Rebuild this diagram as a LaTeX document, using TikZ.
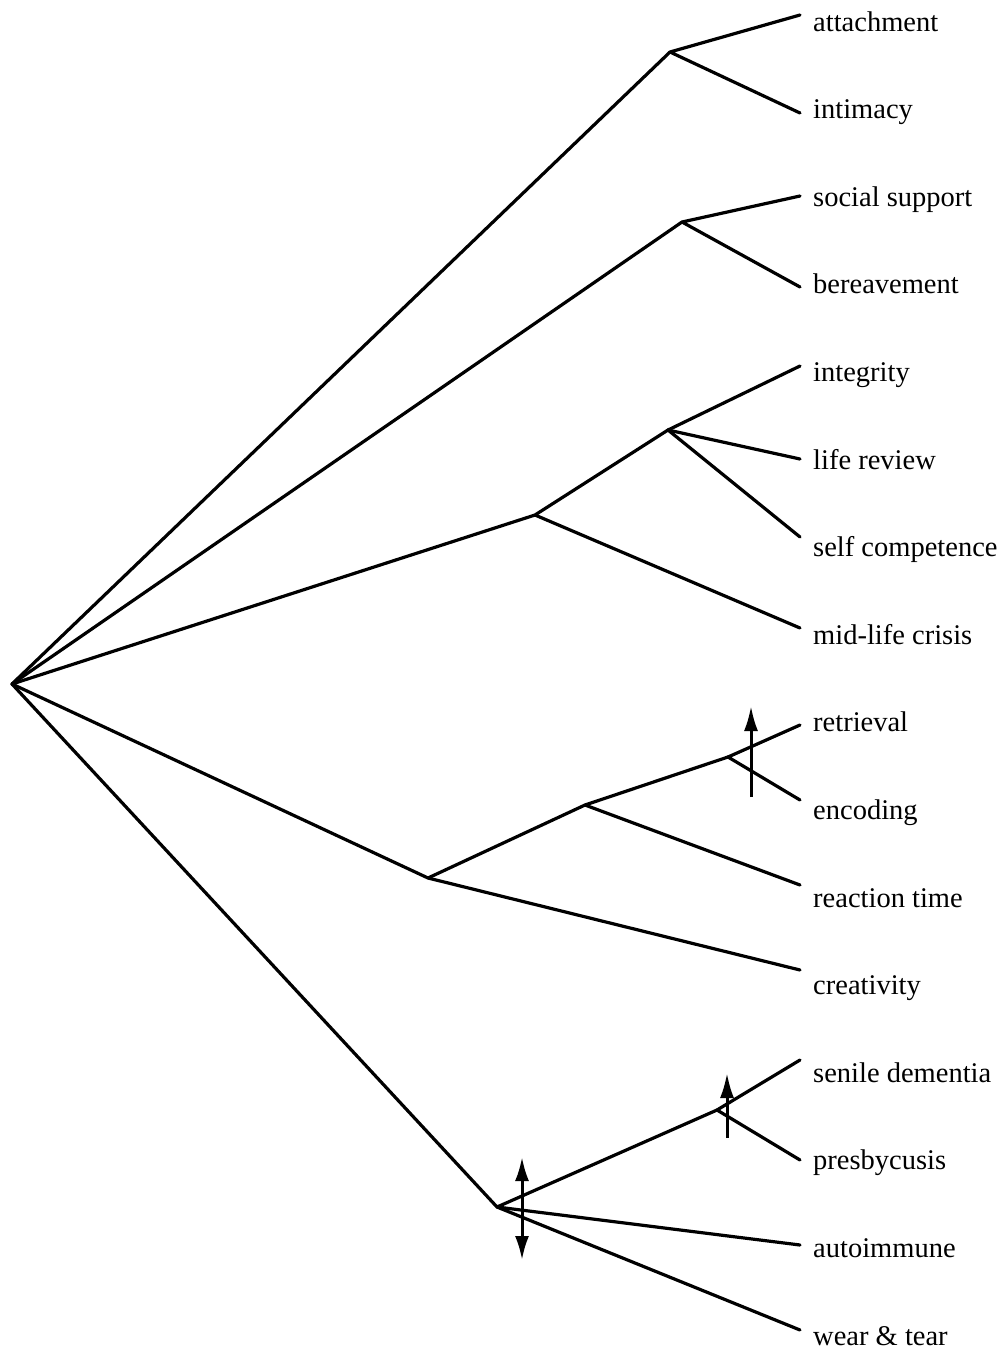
\documentclass[tikz,border=0pt]{standalone}
\usepackage{fontspec}
\setmainfont{Liberation Serif}
\usetikzlibrary{arrows.meta}
\begin{document}
\begin{tikzpicture}[x=1pt,y=-1pt,
  branch/.style={line width=3.2pt,line join=round,line cap=round},
  leaf/.style={anchor=base west,inner sep=0pt,font=\fontsize{28.5}{30}\selectfont},
  marker/.style={line width=3pt,-{Latex[length=25pt,width=14pt]}},
  bimarker/.style={line width=3pt,{Latex[length=24pt,width=14pt]}-{Latex[length=24pt,width=14pt]}}]
\useasboundingbox (0,0) rectangle (1003,1349);

% root and branching points
\coordinate (root) at (12,684);
\coordinate (b1) at (670,52);
\coordinate (b2) at (682,222);
\coordinate (b3) at (535,515);
\coordinate (b31) at (668,430);
\coordinate (b4) at (428,878);
\coordinate (b41) at (585,805);
\coordinate (b42) at (728,757);
\coordinate (b5) at (497,1207);
\coordinate (b51) at (717,1110);

% leaf labels
\node[leaf] (l1)  at (813,31)   {attachment};
\node[leaf] (l2)  at (813,118.6) {intimacy};
\node[leaf] (l3)  at (813,206.2) {social support};
\node[leaf] (l4)  at (813,293.8) {bereavement};
\node[leaf] (l5)  at (813,381.4) {integrity};
\node[leaf] (l6)  at (813,469)   {life review};
\node[leaf] (l7)  at (813,556.6) {self competence};
\node[leaf] (l8)  at (813,644.2) {mid-life crisis};
\node[leaf] (l9)  at (813,731.8) {retrieval};
\node[leaf] (l10) at (813,819.4) {encoding};
\node[leaf] (l11) at (813,907)   {reaction time};
\node[leaf] (l12) at (813,994.6) {creativity};
\node[leaf] (l13) at (813,1082.2) {senile dementia};
\node[leaf] (l14) at (813,1169.8) {presbycusis};
\node[leaf] (l15) at (813,1257.4) {autoimmune};
\node[leaf] (l16) at (813,1345)  {wear \& tear};

% line ends in front of the labels
\coordinate (e1)  at (800,15);
\coordinate (e2)  at (800,113);
\coordinate (e3)  at (800,196);
\coordinate (e4)  at (800,287);
\coordinate (e5)  at (800,366);
\coordinate (e6)  at (800,459);
\coordinate (e7)  at (800,537);
\coordinate (e8)  at (800,628);
\coordinate (e9)  at (800,725);
\coordinate (e10) at (800,800);
\coordinate (e11) at (800,885);
\coordinate (e12) at (800,970);
\coordinate (e13) at (800,1060);
\coordinate (e14) at (800,1160);
\coordinate (e15) at (800,1245);
\coordinate (e16) at (800,1330);

% tree
\draw[branch] (root) -- (b1);
\draw[branch] (e1) -- (b1) -- (e2);
\draw[branch] (root) -- (b2);
\draw[branch] (e3) -- (b2) -- (e4);
\draw[branch] (root) -- (b3) -- (b31);
\draw[branch] (b31) -- (e5);
\draw[branch] (b31) -- (e6);
\draw[branch] (b31) -- (e7);
\draw[branch] (b3) -- (e8);
\draw[branch] (root) -- (b4) -- (b41) -- (b42);
\draw[branch] (e9) -- (b42) -- (e10);
\draw[branch] (b41) -- (e11);
\draw[branch] (b4) -- (e12);
\draw[branch] (root) -- (b5) -- (b51);
\draw[branch] (e13) -- (b51) -- (e14);
\draw[branch] (b5) -- (e15);
\draw[branch] (b5) -- (e16);

% direction markers
\coordinate (m1a) at (751,797);
\coordinate (m1b) at (751,706);
\coordinate (m2a) at (727,1138);
\coordinate (m2b) at (727,1073);
\coordinate (m3a) at (522,1260);
\coordinate (m3b) at (522,1157);
\draw[marker] (m1a) -- (m1b);
\draw[marker] (m2a) -- (m2b);
\draw[bimarker] (m3a) -- (m3b);
\end{tikzpicture}
\end{document}
